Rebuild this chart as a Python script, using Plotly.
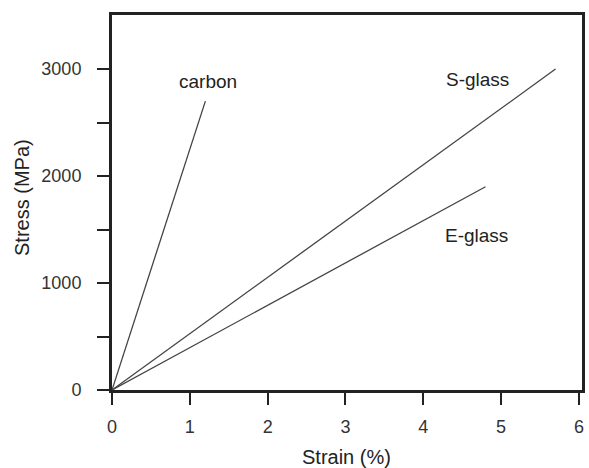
import plotly.graph_objects as go

materials = ["carbon", "S-glass", "E-glass"]
strain_end = [1.2, 5.7, 4.8]      # %
stress_end = [2700, 3000, 1900]   # MPa
label_x = [1.23, 4.70, 4.68]
label_y = [2880, 2900, 1440]

FONT = "Liberation Sans, Arial, Helvetica, sans-serif"

fig = go.Figure()
for name, sx, sy in zip(materials, strain_end, stress_end):
    fig.add_trace(go.Scatter(x=[0, sx], y=[0, sy], mode="lines", name=name,
                             line=dict(color="#444444", width=1.3), showlegend=False))

for name, lx, ly in zip(materials, label_x, label_y):
    fig.add_annotation(x=lx, y=ly, text=name, showarrow=False,
                       font=dict(family=FONT, size=19, color="#222"))

# axis titles
fig.add_annotation(xref="paper", yref="paper", x=(346 - 112) / 470, y=0,
                   yanchor="middle", yshift=-67, text="Strain (%)", showarrow=False,
                   font=dict(family=FONT, size=20, color="#222"))
fig.add_annotation(xref="paper", yref="paper", x=0, y=(390 - 198) / 375,
                   xanchor="center", xshift=-90, textangle=-90, text="Stress (MPa)",
                   showarrow=False, font=dict(family=FONT, size=20, color="#222"))

fig.update_layout(
    width=589, height=468,
    paper_bgcolor="white", plot_bgcolor="white",
    margin=dict(l=112, r=7, t=15, b=78, autoexpand=False),
    font=dict(family=FONT, size=18, color="#333"),
    xaxis=dict(range=[0, 6.04], tickvals=[0, 1, 2, 3, 4, 5, 6],
               ticks="outside", ticklen=12, tickwidth=2, tickcolor="#222",
               showline=True, linecolor="#222", linewidth=3, mirror=True,
               showgrid=False, zeroline=False, automargin=False,
               ticklabelstandoff=6),
    yaxis=dict(range=[0, 3505], tickvals=[0, 500, 1000, 1500, 2000, 2500, 3000],
               ticktext=["0", "", "1000", "", "2000", "", "3000"],
               ticks="outside", ticklen=12, tickwidth=2, tickcolor="#222",
               showline=True, linecolor="#222", linewidth=3, mirror=True,
               showgrid=False, zeroline=False, automargin=False,
               ticklabelstandoff=12),
)

fig.write_html("out.html", config={"displayModeBar": False},
               post_script="document.body.style.margin='0';")
